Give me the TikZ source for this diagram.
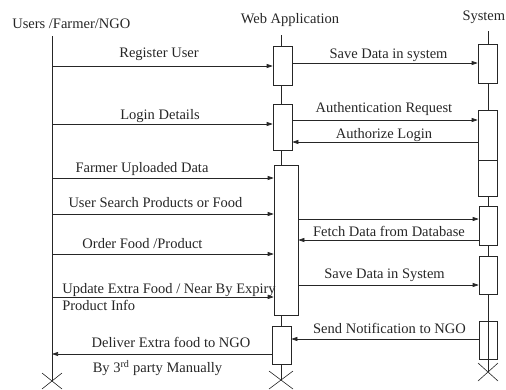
\documentclass[tikz,border=0pt]{standalone}
\usepackage{fontspec}
\setmainfont{Liberation Serif}
\usetikzlibrary{arrows.meta}

\begin{document}
\begin{tikzpicture}[x=1pt, y=-1pt, line width=0.6pt, color=black!85,
    every node/.style={font=\fontsize{14.5}{17}\selectfont, inner sep=0pt},
    lbl/.style={anchor=base},
    act/.style={draw, fill=white, minimum width=19pt},
    msg/.style={-{Triangle[length=6pt,width=4pt]}}]
    \useasboundingbox (0,0) rectangle (506,389);
    \node[anchor=base west] (tUsers) at (12,28) {Users /Farmer/NGO};
    \node[lbl] (tWeb) at (290,23) {Web Application};
    \node[anchor=base east] (tSystem) at (505.5,20) {System};
    \coordinate (uTop) at (52,36);
    \coordinate (uEnd) at (52,381);
    \coordinate (wTop) at (281,35);
    \coordinate (wEnd) at (281,380);
    \coordinate (sTop) at (488,31);
    \coordinate (sEnd) at (488,372);
    \draw (uTop) -- (uEnd);
    \draw (wTop) -- (wEnd);
    \draw (sTop) -- (sEnd);
    \draw (uEnd) ++(-10,-8) -- ++(20,16) (uEnd) ++(-10,8) -- ++(20,-16);
    \draw (wEnd) ++(-12,-9) -- ++(24,18) (wEnd) ++(-12,9) -- ++(24,-18);
    \draw (sEnd) ++(-10,-9) -- ++(20,18) (sEnd) ++(-10,9) -- ++(20,-18);
    \node[act, minimum height=39pt] (w1) at (282.5,65.5) {};
    \node[act, minimum height=39pt] (s1) at (487.5,63.5) {};
    \node[act, minimum height=46pt] (w2) at (282.5,127) {};
    \node[act, minimum height=50pt] (s2) at (487.5,135) {};
    \node[act, minimum height=36pt] (s3) at (487.5,178) {};
    \node[act, minimum width=24pt, minimum height=150pt] (w3) at (286,240) {};
    \node[act, minimum width=18pt, minimum height=39pt] (s4) at (488,225.5) {};
    \node[act, minimum width=18pt, minimum height=38pt] (s5) at (488,275) {};
    \node[act, fill=none, minimum width=18pt, minimum height=38pt] (s6) at (488,340) {};
    \node[act, minimum height=38pt] (w4) at (281.5,345) {};
    \coordinate (uReg) at (52,66);
    \coordinate (wSave) at (281,63);
    \coordinate (uLogin) at (52,124);
    \coordinate (wAuth) at (281,120);
    \coordinate (wOk) at (281,142);
    \coordinate (uUpload) at (52,178);
    \coordinate (uSearch) at (52,214);
    \coordinate (wQuery) at (281,219);
    \coordinate (wFetch) at (281,240);
    \coordinate (uOrder) at (52,254);
    \coordinate (wStore) at (281,285);
    \coordinate (uUpdate) at (52,297);
    \coordinate (wNotify) at (281,339);
    \coordinate (uDeliver) at (52,354);
    \draw[msg] (uReg) -- (uReg -| w1.west);
    \draw[msg] (wSave -| w1.east) -- (wSave -| s1.west);
    \draw[msg] (uLogin) -- (uLogin -| w2.west);
    \draw[msg] (wAuth -| w2.east) -- (wAuth -| s2.west);
    \draw[msg] (wOk -| s2.west) -- (wOk -| w2.east);
    \draw[msg] (uUpload) -- (uUpload -| w3.west);
    \draw[msg] (uSearch) -- (uSearch -| w3.west);
    \draw[msg] (wQuery -| w3.east) -- (wQuery -| s4.west);
    \draw[msg] (wFetch -| s4.west) -- (wFetch -| w3.east);
    \draw[msg] (uOrder) -- (uOrder -| w3.west);
    \draw[msg] (wStore -| w3.east) -- (wStore -| s5.west);
    \draw[msg] (uUpdate) -- (uUpdate -| w3.west);
    \draw[msg] (wNotify -| s6.west) -- (wNotify -| w4.east);
    \draw[msg] (uDeliver -| w4.west) -- (uDeliver);
    \node[lbl] (tReg) at (159,57) {Register User};
    \node[lbl] (tSave) at (388.5,58.5) {Save Data in system};
    \node[lbl] (tLogin) at (160,119) {Login Details};
    \node[lbl] (tAuth) at (384,112) {Authentication Request};
    \node[lbl] (tOk) at (384,138) {Authorize Login};
    \node[lbl] (tUpload) at (142,172.5) {Farmer Uploaded Data};
    \node[lbl] (tSearch) at (155.5,207.5) {User Search Products or Food};
    \node[lbl] (tFetch) at (389,236) {Fetch Data from Database};
    \node[lbl] (tOrder) at (142.5,248.5) {Order Food /Product};
    \node[lbl] (tStore) at (384.5,278) {Save Data in System};
    \node[anchor=base west] (tUpdate) at (62,293.5) {Update Extra Food / Near By Expiry};
    \node[anchor=base west] (tUpdateB) at (62,310.5) {Product Info};
    \node[lbl] (tNotify) at (389.5,333) {Send Notification to NGO};
    \node[lbl] (tDeliver) at (171,347) {Deliver Extra food to NGO};
    \node[lbl] (tParty) at (157.5,372.5) {By 3\textsuperscript{rd} party Manually};
\end{tikzpicture}
\end{document}
